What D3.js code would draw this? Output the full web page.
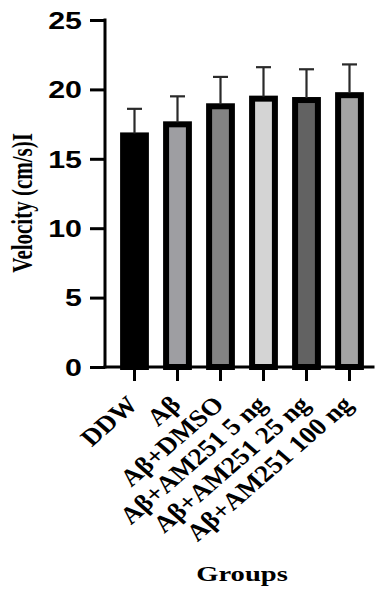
<!DOCTYPE html>
<html>
<head>
<meta charset="utf-8">
<script src="https://cdn.jsdelivr.net/npm/d3@7"></script>
<style>
  html, body { margin: 0; padding: 0; background: #fff; }
  svg { display: block; }
</style>
</head>
<body>
<div id="chart"></div>
<script>
// Velocity per group, bar + upper SD whisker (GraphPad look)
const groups = ["DDW", "Aβ", "Aβ+DMSO", "Aβ+AM251 5 ng", "Aβ+AM251 25 ng", "Aβ+AM251 100 ng"];
const means = [16.9, 17.7, 19.0, 19.55, 19.45, 19.8];
const errors = [1.7, 1.8, 1.9, 2.05, 2.0, 2.0];
const fills = ["#000000", "#9e9ea2", "#838383", "#d4d4d4", "#626262", "#a3a3a3"];
const yTicks = [0, 5, 10, 15, 20, 25];

const width = 377, height = 592;
const stretch = 1.32; // source image is widened horizontally

const svg = d3.select("#chart").append("svg")
  .attr("width", width)
  .attr("height", height);

const axisX0 = 105, axisX1 = 373;

const y = d3.scaleLinear().domain([0, 25]).range([367, 20]);
const x = d3.scaleBand()
  .domain(groups)
  .range([113, 371])
  .paddingInner(0.33)
  .paddingOuter(0.165);

const data = groups.map((g, i) => ({ g, v: means[i], e: errors[i], fill: fills[i] }));

// bars (thick black border, drawn inside the band)
const bw = 6;
svg.selectAll(".bar")
  .data(data)
  .join("rect")
  .attr("class", "bar")
  .attr("x", d => x(d.g) + bw / 2)
  .attr("y", d => y(d.v) + bw / 2)
  .attr("width", x.bandwidth() - bw)
  .attr("height", d => y(0) - y(d.v) - bw / 2)
  .attr("fill", d => d.fill)
  .attr("stroke", "#000")
  .attr("stroke-width", bw);

// error bars, upper only
const err = svg.selectAll(".err")
  .data(data)
  .join("g")
  .attr("class", "err")
  .attr("stroke", "#2a2a2a")
  .attr("stroke-width", 2.2);

err.append("line")
  .attr("x1", d => x(d.g) + x.bandwidth() / 2)
  .attr("x2", d => x(d.g) + x.bandwidth() / 2)
  .attr("y1", d => y(d.v) + 1)
  .attr("y2", d => y(d.v + d.e));

err.append("line")
  .attr("x1", d => x(d.g) + x.bandwidth() / 2 - 7.5)
  .attr("x2", d => x(d.g) + x.bandwidth() / 2 + 7.5)
  .attr("y1", d => y(d.v + d.e))
  .attr("y2", d => y(d.v + d.e));

// y axis
const gy = svg.append("g")
  .attr("transform", `translate(${axisX0},0)`)
  .call(d3.axisLeft(y).tickValues(yTicks).tickSize(15).tickSizeOuter(0));

gy.select(".domain").remove();
gy.selectAll("line").attr("stroke", "#000").attr("stroke-width", 3);
gy.selectAll("text")
  .attr("x", 0)
  .attr("dy", "0.36em")
  .attr("transform", `translate(-23,0) scale(${stretch},1)`)
  .attr("fill", "#000")
  .style("font-family", "'Liberation Sans', Arial, sans-serif")
  .style("font-weight", "bold")
  .style("font-size", "23px");

// x axis
const gx = svg.append("g")
  .attr("transform", `translate(0,${y(0)})`)
  .call(d3.axisBottom(x).tickSize(14).tickSizeOuter(0));

gx.select(".domain").remove();
gx.selectAll("line").attr("stroke", "#000").attr("stroke-width", 3);
gx.selectAll("text")
  .attr("x", 0)
  .attr("y", 0)
  .attr("dy", "0.35em")
  .attr("text-anchor", "end")
  .attr("transform", `translate(-2,33) scale(1.15,1) rotate(-45)`)
  .attr("fill", "#000")
  .style("font-family", "'Liberation Serif', 'Times New Roman', serif")
  .style("font-weight", "bold")
  .style("font-size", "24px");

// axis lines
svg.append("line")
  .attr("x1", axisX0).attr("x2", axisX0)
  .attr("y1", y(25)).attr("y2", y(0))
  .attr("stroke", "#000").attr("stroke-width", 3)
  .attr("stroke-linecap", "square");

svg.append("line")
  .attr("x1", axisX0).attr("x2", axisX1)
  .attr("y1", y(0)).attr("y2", y(0))
  .attr("stroke", "#000").attr("stroke-width", 3)
  .attr("stroke-linecap", "square");

// axis titles
svg.append("text")
  .attr("transform", `translate(32,203) scale(1.4,1) rotate(-90)`)
  .attr("text-anchor", "middle")
  .style("font-family", "'Liberation Serif', 'Times New Roman', serif")
  .style("font-weight", "bold")
  .style("font-size", "21px")
  .text("Velocity (cm/s)I");

svg.append("text")
  .attr("transform", `translate(242,581) scale(1.3,1)`)
  .attr("text-anchor", "middle")
  .style("font-family", "'Liberation Serif', 'Times New Roman', serif")
  .style("font-weight", "bold")
  .style("font-size", "22px")
  .text("Groups");
</script>
</body>
</html>
